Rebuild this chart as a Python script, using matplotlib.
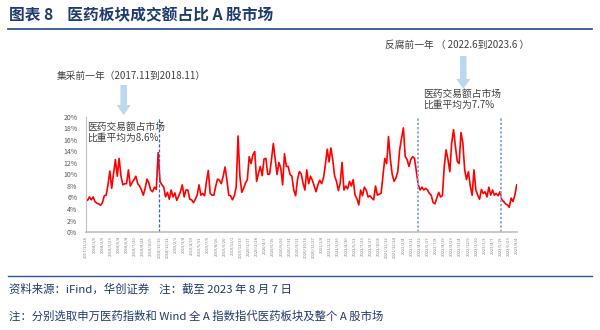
import numpy as np
import matplotlib
matplotlib.use("Agg")
import matplotlib.pyplot as plt
from matplotlib.patches import FancyArrow

plt.rcParams["font.family"] = ["Noto Sans CJK SC", "DejaVu Sans"]

# share of pharma turnover in whole A-share market, %
share_a = [5.7, 5.5, 6.1, 5.6, 6.1, 5.3, 5.0, 4.9, 4.65, 5.1, 6.3, 6.4, 8.2, 10.6, 7.6, 10.2, 12.6, 9.7,
           12.8, 9.7, 8.2, 8.4, 8.4, 10.8, 8.0, 8.6, 9.1, 9.7, 8.4, 8.0, 7.3, 6.4, 7.6, 9.2, 8.5, 7.3,
           7.0, 7.8, 7.4, 13.8, 8.8, 8.2, 7.8, 6.1, 6.9, 5.7, 7.3, 6.1, 6.8, 5.5, 6.2, 7.0]
share_b = [8.2, 6.1, 7.3, 7.3, 5.7, 5.6, 5.1, 5.7, 6.4, 8.2, 6.4, 6.7, 6.3, 8.8, 10.7, 6.7, 6.4, 6.4,
           8.0, 9.2, 9.0, 8.4, 9.7, 11.3, 9.1, 6.4, 6.3, 5.6, 6.3, 7.8, 16.7, 9.7, 6.9, 7.6, 8.5, 9.1,
           13.1, 11.9, 13.4, 14.0, 8.8, 10.2, 11.4, 9.8, 12.7, 12.8, 10.0, 10.1, 12.6, 15.4, 12.7,
           10.0, 12.1, 11.1, 8.2, 13.6]
share_c = [11.4, 11.4, 10.0, 9.7, 7.3, 6.3, 9.1, 10.5, 10.1, 8.5, 7.3, 10.8, 8.4, 9.7, 9.0, 8.0, 7.0,
           8.2, 9.0, 8.4, 9.4, 11.7, 14.4, 12.2, 14.6, 12.5, 9.7, 8.8, 7.2, 8.5, 12.1, 7.3, 8.0, 7.5,
           8.8, 8.0, 9.1, 6.4, 5.8, 4.7, 7.3, 6.3, 7.8, 7.3, 6.1, 6.3, 5.9, 5.6, 8.0, 6.4, 6.6, 6.7,
           9.7, 12.8, 11.9]
share_d = [16.6, 12.6, 10.0, 8.8, 9.4, 10.5, 14.3, 16.3, 18.1, 13.1, 12.6, 11.4, 12.6, 13.1, 12.8,
           10.5, 8.2, 7.3, 7.8, 7.3, 7.6, 7.3, 6.7, 6.4, 5.1, 4.9, 5.9, 6.9, 6.1, 6.3, 11.4, 14.3,
           12.6, 10.5, 15.5, 17.8, 14.9, 12.3, 11.9, 17.3, 15.5, 10.8, 9.1, 10.5, 8.0, 6.4, 10.8, 7.3,
           6.4, 5.7, 7.4, 6.7, 7.0, 6.1, 7.8, 6.4, 7.3, 6.4, 6.7, 6.3, 7.0, 5.6, 5.3, 4.9, 4.7, 4.3,
           5.9, 5.3, 6.4, 8.2]
share = share_a + share_b + share_c + share_d

# period boundaries (index into series): 2018.11, 2022.6, 2023.6
period_marks = [39.4, 178.7, 223.8]

tick_labels = [
    "2017/11/24", "2018/1/5", "2018/2/9", "2018/3/23", "2018/5/4", "2018/6/8", "2018/7/20",
    "2018/8/24", "2018/10/5", "2018/11/16", "2018/12/21", "2019/2/1", "2019/3/8", "2019/4/19",
    "2019/5/31", "2019/7/5", "2019/8/16", "2019/9/20", "2019/11/1", "2019/12/13", "2020/1/17",
    "2020/2/28", "2020/4/3", "2020/5/15", "2020/6/26", "2020/7/31", "2020/9/11", "2020/10/16",
    "2020/11/27", "2021/1/8", "2021/2/12", "2021/3/26", "2021/4/30", "2021/6/11", "2021/7/23",
    "2021/8/27", "2021/10/8", "2021/11/12", "2021/12/24", "2022/2/4", "2022/3/11", "2022/4/22",
    "2022/5/27", "2022/7/8", "2022/8/19", "2022/9/23", "2022/11/4", "2022/12/9", "2023/1/20",
    "2023/3/3", "2023/4/7", "2023/5/19", "2023/6/23", "2023/8/4",
]
yticks = list(range(0, 21, 2))

W, H = 600, 330


def fx(px):
    return px / W


def fy(py):
    return 1 - py / H


fig = plt.figure(figsize=(6, 3.3), dpi=100)
ax = fig.add_axes([fx(85.7), fy(232), fx(516.7) - fx(85.7), fy(117) - fy(232)])

x = np.arange(len(share))
ax.plot(x, share, color="#ff0000", linewidth=1.2)

ax.axvline(period_marks[0], color="#2e62d6", linestyle=(0, (2.5, 1.5)), linewidth=0.9)
for m in period_marks[1:]:
    ax.axvline(m, color="#8eaadb", linestyle=(0, (1.2, 1.0)), linewidth=1.4)

ax.set_xlim(0, len(share) - 1)
ax.set_ylim(0, 20)
ax.set_yticks(yticks)
ax.set_yticklabels([f"{v}%" for v in yticks], fontsize=5, color="#595959")
ax.set_xticks(np.linspace(0, len(share) - 1, len(tick_labels)))
ax.set_xticklabels(tick_labels, rotation=90, fontsize=3, color="#7f7f7f")
ax.tick_params(axis="both", length=0)
ax.tick_params(axis="y", pad=6)
ax.tick_params(axis="x", pad=3)

for s in ("top", "right"):
    ax.spines[s].set_visible(False)
ax.spines["left"].set_color("#bfbfbf")
ax.spines["left"].set_linewidth(0.8)
ax.spines["bottom"].set_color("#bfbfbf")
ax.spines["bottom"].set_linewidth(1.2)

ax.text(0.004, 0.96, "医药交易额占市场\n比重平均为8.6%", transform=ax.transAxes,
        fontsize=7, color="#404040", va="top", ha="left", linespacing=1.1)

# header and footer
fig.text(fx(9), fy(15), "图表 8    医药板块成交额占比 A 股市场", fontsize=11.3,
         fontweight="bold", color="#1f3b6e", va="center", ha="left")
fig.add_artist(plt.Line2D([fx(8), fx(592)], [fy(29), fy(29)], color="#2f5597", linewidth=1.3))
fig.add_artist(plt.Line2D([fx(8), fx(592)], [fy(276), fy(276)], color="#2f5597", linewidth=1.0))
fig.text(fx(9), fy(289), "资料来源：iFind，华创证券    注：截至 2023 年 8 月 7 日", fontsize=8.2,
         color="#1f3b6e", va="center", ha="left")
fig.text(fx(9), fy(316), "注：分别选取申万医药指数和 Wind 全 A 指数指代医药板块及整个 A 股市场",
         fontsize=8.2, color="#1f3b6e", va="center", ha="left")

# period annotations with arrows
fig.text(fx(57), fy(76), "集采前一年（2017.11到2018.11）", fontsize=7, color="#404040",
         va="center", ha="left")
fig.text(fx(385), fy(45), "反腐前一年 （ 2022.6到2023.6 ）", fontsize=7, color="#404040",
         va="center", ha="left")
fig.text(fx(423), fy(99), "医药交易额占市场\n比重平均为7.7%", fontsize=7, color="#404040",
         va="center", ha="left", linespacing=1.1)

for cx, top, tip in ((123.7, 85, 115), (463.3, 56, 89)):
    fig.add_artist(FancyArrow(cx / 100, (H - top) / 100, 0, -(tip - top) / 100,
                              width=0.065, head_width=0.14, head_length=0.1,
                              length_includes_head=True, color="#bdd7ee",
                              transform=fig.dpi_scale_trans, linewidth=0))

fig.savefig("out.png", dpi=100)
